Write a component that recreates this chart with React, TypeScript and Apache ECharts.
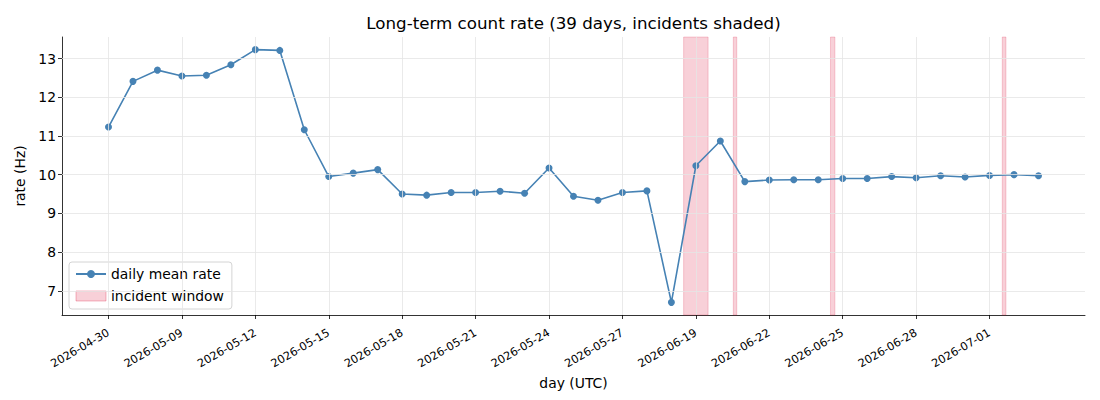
import React, { useEffect, useRef } from "react";
import * as echarts from "echarts";

const dates: string[] = [
  "2026-04-30", "2026-05-07", "2026-05-08", "2026-05-09", "2026-05-10", "2026-05-11",
  "2026-05-12", "2026-05-13", "2026-05-14", "2026-05-15", "2026-05-16", "2026-05-17",
  "2026-05-18", "2026-05-19", "2026-05-20", "2026-05-21", "2026-05-22", "2026-05-23",
  "2026-05-24", "2026-05-25", "2026-05-26", "2026-05-27", "2026-05-28", "2026-05-29",
  "2026-06-19", "2026-06-20", "2026-06-21", "2026-06-22", "2026-06-23", "2026-06-24",
  "2026-06-25", "2026-06-26", "2026-06-27", "2026-06-28", "2026-06-29", "2026-06-30",
  "2026-07-01", "2026-07-02", "2026-07-03",
];

const rates: number[] = [
  11.23, 12.41, 12.70, 12.55, 12.57, 12.84, 13.23, 13.21, 11.16, 9.95, 10.04, 10.13,
  9.50, 9.47, 9.54, 9.54, 9.57, 9.52, 10.17, 9.44, 9.34, 9.54, 9.58, 6.70,
  10.23, 10.87, 9.82, 9.86, 9.87, 9.87, 9.90, 9.90, 9.95, 9.92, 9.97, 9.94,
  9.98, 10.00, 9.97,
];

const xTicks: number[] = [0, 3, 6, 9, 12, 15, 18, 21, 24, 27, 30, 33, 36];
const yTicks: number[] = [7, 8, 9, 10, 11, 12, 13];

const incidents: [number, number][] = [
  [23.5, 24.5],
  [25.53, 25.67],
  [29.5, 29.68],
  [36.52, 36.67],
];

const FONT = "DejaVu Sans";
const LINE = "#4682b4";
const SHADE = "rgba(220,20,60,0.2)";
const SHADE_EDGE = "rgba(220,20,60,0.2)";
const GRID = "#e4e4e4";

export default function App() {
  const ref = useRef<HTMLDivElement>(null);

  useEffect(() => {
    document.body.style.margin = "0";
    if (!ref.current) return;
    const chart = echarts.init(ref.current, undefined, { renderer: "svg" });

    const n = rates.length;
    const xMin = -0.05 * (n - 1);
    const xMax = n - 1 + 0.05 * (n - 1);
    const yLo = Math.min(...rates);
    const yHi = Math.max(...rates);
    const yPad = 0.05 * (yHi - yLo);

    const option: any = {
      animation: false,
      textStyle: { fontFamily: FONT },
      grid: { left: 62, right: 15, top: 37, bottom: 85, containLabel: false },
      graphic: [
        {
          type: "text",
          x: 573.5,
          y: 23,
          style: {
            text: "Long-term count rate (39 days, incidents shaded)",
            fontFamily: FONT,
            fontSize: 16.7,
            fill: "#000",
            textAlign: "center",
            textVerticalAlign: "middle",
          },
        },
      ],
      legend: {
        orient: "vertical",
        left: 69,
        top: 262,
        padding: [5, 8, 6, 6],
        itemGap: 8,
        itemWidth: 30,
        itemHeight: 10,
        backgroundColor: "rgba(255,255,255,0.8)",
        borderColor: "#d4d4d4",
        borderWidth: 1,
        borderRadius: 3,
        textStyle: { fontFamily: FONT, fontSize: 13.9, color: "#000" },
        data: [
          { name: "daily mean rate" },
          {
            name: "incident window",
            icon: "rect",
            itemStyle: { color: SHADE, borderColor: "rgba(220,20,60,0.3)", borderWidth: 1 },
          },
        ],
      },
      xAxis: {
        type: "value",
        min: xMin,
        max: xMax,
        name: "day (UTC)",
        nameLocation: "middle",
        nameGap: 55,
        nameTextStyle: { fontFamily: FONT, fontSize: 13.9, color: "#000" },
        axisLine: { show: true, onZero: false, lineStyle: { color: "#000", width: 0.8 } },
        axisTick: {
          show: true,
          customValues: xTicks,
          length: 4,
          inside: false,
          lineStyle: { color: "#000", width: 0.8 },
        },
        axisLabel: {
          customValues: xTicks,
          rotate: 30,
          margin: 17,
          fontFamily: FONT,
          fontSize: 11.3,
          color: "#000",
          formatter: (v: number) => dates[Math.round(v)] ?? "",
        },
        splitLine: { show: false },
      },
      yAxis: {
        type: "value",
        min: yLo - yPad,
        max: yHi + yPad,
        name: "rate (Hz)",
        nameLocation: "middle",
        nameGap: 35,
        nameTextStyle: { fontFamily: FONT, fontSize: 13.9, color: "#000" },
        axisLine: { show: true, onZero: false, lineStyle: { color: "#000", width: 0.8 } },
        axisTick: {
          show: true,
          customValues: yTicks,
          length: 4,
          lineStyle: { color: "#000", width: 0.8 },
        },
        axisLabel: {
          customValues: yTicks,
          margin: 6,
          fontFamily: FONT,
          fontSize: 13.9,
          color: "#000",
        },
        splitLine: { show: false },
      },
      series: [
        {
          name: "grid",
          type: "line",
          data: [],
          z: 1,
          silent: true,
          markLine: {
            silent: true,
            symbol: "none",
            label: { show: false },
            lineStyle: { color: GRID, width: 0.8, type: "solid" },
            data: [
              ...xTicks.map((v) => ({ xAxis: v })),
              ...yTicks.map((v) => ({ yAxis: v })),
            ],
          },
        },
        {
          name: "incident window",
          type: "line",
          data: [],
          z: 2,
          itemStyle: { color: SHADE },
          silent: true,
          markArea: {
            silent: true,
            itemStyle: { color: SHADE, borderColor: SHADE_EDGE, borderWidth: 1 },
            label: { show: false },
            data: incidents.map(([a, b]) => [{ xAxis: a }, { xAxis: b }]),
          },
        },
        {
          name: "daily mean rate",
          type: "line",
          z: 3,
          data: rates.map((v, i) => [i, v]),
          symbol: "circle",
          symbolSize: 7,
          lineStyle: { color: LINE, width: 1.6 },
          itemStyle: { color: LINE },
        },
      ],
    };

    chart.setOption(option);
    return () => chart.dispose();
  }, []);

  return <div ref={ref} style={{ width: 1100, height: 400 }} />;
}
